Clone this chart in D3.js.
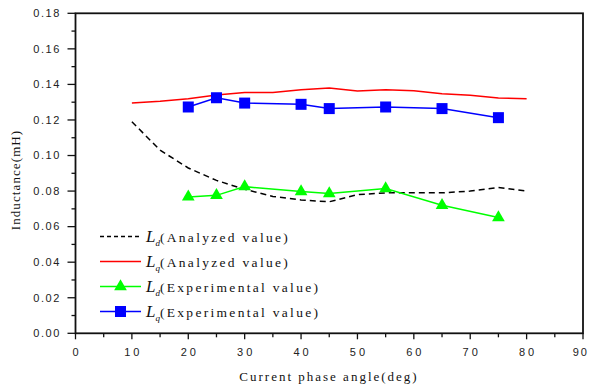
<!DOCTYPE html>
<html lang="en">
<head>
<meta charset="utf-8">
<title>inductance</title>
<script src="https://d3js.org/d3.v7.min.js"></script>
<style>
  body { margin: 0; background: #fff; }
  .tick-lab { font-family: "Liberation Sans", Arial, sans-serif; font-size: 11px; fill: #222; }
  .serif { font-family: "Liberation Serif", "Times New Roman", serif; fill: #111; }
</style>
</head>
<body>
<svg width="590" height="389"></svg>
<script>
// analyzed curves (every 5 deg)
var anaAngles = [10, 15, 20, 25, 30, 35, 40, 45, 50, 55, 60, 65, 70, 75, 80];
var ldAnalyzed = [0.119, 0.103, 0.093, 0.086, 0.081, 0.077, 0.075, 0.074, 0.078, 0.079, 0.079, 0.079, 0.080, 0.082, 0.080];
var lqAnalyzed = [0.1295, 0.1305, 0.132, 0.134, 0.1355, 0.1355, 0.137, 0.138, 0.1363, 0.137, 0.1365, 0.1348, 0.1339, 0.1324, 0.132];

// experimental points
var expAngles = [20, 25, 30, 40, 45, 55, 65, 75];
var ldExp = [0.0767, 0.0776, 0.0825, 0.0797, 0.0786, 0.0814, 0.072, 0.0651];
var lqExp = [0.1273, 0.1325, 0.1295, 0.1288, 0.1264, 0.1273, 0.1264, 0.1213];

var xTicks = [0, 10, 20, 30, 40, 50, 60, 70, 80, 90];
var yTicks = [0, 0.02, 0.04, 0.06, 0.08, 0.10, 0.12, 0.14, 0.16, 0.18];

var svg = d3.select("svg");
var x = d3.scaleLinear().domain([0, 90]).range([75.5, 583]);
var y = d3.scaleLinear().domain([0, 0.18]).range([333.3, 13.3]);

// frame
svg.append("rect")
  .attr("x", x(0)).attr("y", y(0.18))
  .attr("width", x(90) - x(0)).attr("height", y(0) - y(0.18))
  .attr("fill", "none").attr("stroke", "#111").attr("stroke-width", 1.8);

// y ticks
var yMinor = d3.range(0.01, 0.18, 0.02);
svg.append("g").selectAll("line.maj").data(yTicks).enter().append("line")
  .attr("x1", x(0) - 8).attr("x2", x(0))
  .attr("y1", d => y(d)).attr("y2", d => y(d))
  .attr("stroke", "#111").attr("stroke-width", 1.3);
svg.append("g").selectAll("line.min").data(yMinor).enter().append("line")
  .attr("x1", x(0) - 4).attr("x2", x(0))
  .attr("y1", d => y(d)).attr("y2", d => y(d))
  .attr("stroke", "#111").attr("stroke-width", 1.3);
svg.append("g").selectAll("text").data(yTicks).enter().append("text")
  .attr("class", "tick-lab")
  .attr("x", 61).attr("y", d => y(d)).attr("dy", "0.35em")
  .attr("text-anchor", "end")
  .style("letter-spacing", "1.6px")
  .text(d => d.toFixed(2));

// x ticks
var xMinor = d3.range(5, 90, 10);
svg.append("g").selectAll("line.maj").data(xTicks).enter().append("line")
  .attr("x1", d => x(d)).attr("x2", d => x(d))
  .attr("y1", y(0)).attr("y2", y(0) + 6)
  .attr("stroke", "#111").attr("stroke-width", 1.3);
svg.append("g").selectAll("line.min").data(xMinor).enter().append("line")
  .attr("x1", d => x(d)).attr("x2", d => x(d))
  .attr("y1", y(0)).attr("y2", y(0) + 4)
  .attr("stroke", "#111").attr("stroke-width", 1.3);
svg.append("g").selectAll("text").data(xTicks).enter().append("text")
  .attr("class", "tick-lab")
  .attr("x", d => d === 90 ? 589 : x(d) + 1.5).attr("y", 356)
  .attr("text-anchor", d => d === 90 ? "end" : "middle")
  .style("letter-spacing", d => d === 90 ? "2px" : "3px")
  .text(d => d);

// axis titles
svg.append("text").attr("class", "serif")
  .attr("x", 329).attr("y", 381)
  .attr("text-anchor", "middle")
  .style("font-size", "13px").style("letter-spacing", "2px")
  .text("Current phase angle(deg)");
svg.append("text").attr("class", "serif")
  .attr("transform", "translate(20,180) rotate(-90)")
  .attr("text-anchor", "middle")
  .style("font-size", "13px").style("letter-spacing", "1.1px")
  .text("Inductance(mH)");

var line = d3.line().x(d => x(d[0])).y(d => y(d[1]));

// analyzed
svg.append("path").datum(d3.zip(anaAngles, lqAnalyzed))
  .attr("d", line).attr("fill", "none").attr("stroke", "#ff0000").attr("stroke-width", 1.5);
svg.append("path").datum(d3.zip(anaAngles, ldAnalyzed))
  .attr("d", line).attr("fill", "none").attr("stroke", "#000")
  .attr("stroke-width", 1.5).attr("stroke-dasharray", "6,4");

// experimental Lq
svg.append("path").datum(d3.zip(expAngles, lqExp))
  .attr("d", line).attr("fill", "none").attr("stroke", "#0000ff").attr("stroke-width", 1.5);
svg.append("g").selectAll("rect").data(d3.zip(expAngles, lqExp)).enter().append("rect")
  .attr("x", d => x(d[0]) - 5.5).attr("y", d => y(d[1]) - 5.5)
  .attr("width", 11).attr("height", 11).attr("fill", "#0000ff");

// experimental Ld
var tri = d3.symbol().type(d3.symbolTriangle).size(70);
svg.append("path").datum(d3.zip(expAngles, ldExp))
  .attr("d", line).attr("fill", "none").attr("stroke", "#00ff00").attr("stroke-width", 1.5);
svg.append("g").selectAll("path").data(d3.zip(expAngles, ldExp)).enter().append("path")
  .attr("d", tri)
  .attr("transform", d => `translate(${x(d[0])},${y(d[1])})`)
  .attr("fill", "#00ff00");

// legend
var legend = [
  { sub: "d", text: "(Analyzed value)", color: "#000", dash: "4,3", mark: null },
  { sub: "q", text: "(Analyzed value)", color: "#ff0000", dash: null, mark: null },
  { sub: "d", text: "(Experimental value)", color: "#00ff00", dash: null, mark: "tri" },
  { sub: "q", text: "(Experimental value)", color: "#0000ff", dash: null, mark: "sq" }
];
var lg = svg.append("g").selectAll("g").data(legend).enter().append("g")
  .attr("transform", (d, i) => `translate(0,${236.5 + i * 25})`);
lg.append("line").attr("x1", 100).attr("x2", 141).attr("y1", 0).attr("y2", 0)
  .attr("stroke", d => d.color).attr("stroke-width", 1.5)
  .attr("stroke-dasharray", d => d.dash);
lg.filter(d => d.mark === "tri").append("path")
  .attr("d", tri).attr("transform", "translate(120.5,0)").attr("fill", "#00ff00");
lg.filter(d => d.mark === "sq").append("rect")
  .attr("x", 115).attr("y", -5.5).attr("width", 11).attr("height", 11).attr("fill", "#0000ff");
var lt = lg.append("text").attr("class", "serif").attr("x", 146).attr("y", 5);
lt.append("tspan").style("font-style", "italic").style("font-size", "17px").text("L");
lt.append("tspan").style("font-style", "italic").style("font-size", "9px").attr("dy", 4).text(d => d.sub);
lt.append("tspan").attr("dy", -4).style("font-size", "13.5px").style("letter-spacing", "2.3px").text(d => d.text);
</script>
</body>
</html>
